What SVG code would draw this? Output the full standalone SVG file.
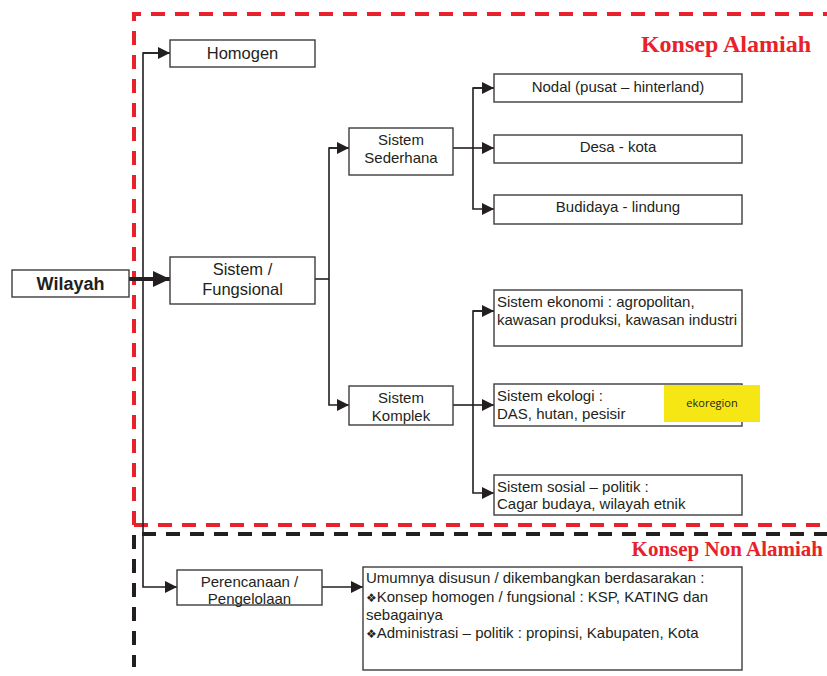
<svg xmlns="http://www.w3.org/2000/svg" width="827" height="676" viewBox="0 0 827 676">
<defs>
<marker id="arr" markerUnits="userSpaceOnUse" markerWidth="12" markerHeight="12" refX="12" refY="6" orient="auto"><path d="M0,0 L12,6 L0,12 z" fill="#231f20"/></marker>
<marker id="arrBig" markerUnits="userSpaceOnUse" markerWidth="17" markerHeight="16" refX="17" refY="8" orient="auto"><path d="M0,0 L17,8 L0,16 z" fill="#231f20"/></marker>
</defs>
<style>
.box{fill:#fff;stroke:#3c3c3c;stroke-width:1.4}
.t{font-family:"Liberation Sans",Arial,sans-serif;font-size:15px;fill:#231f20}
.c{text-anchor:middle}
.b{font-size:18px;font-weight:bold}
.m{font-size:16.5px}
.sym{font-family:"DejaVu Sans",sans-serif;font-size:12px}
.ln{fill:none;stroke:#231f20;stroke-width:1.6}
.red{fill:none;stroke:#e8212a;stroke-width:4;stroke-dasharray:14 10}
.blk{fill:none;stroke:#231f20;stroke-width:4;stroke-dasharray:14 10}
.title{font-family:"Liberation Serif","Times New Roman",serif;font-weight:bold;fill:#e8212a;text-anchor:end}
</style>
<rect width="827" height="676" fill="#fff"/>
<g id="frames">
<path class="red" d="M134,525 V14 H827"/>
<path class="red" d="M134,525 H827"/>
<path class="blk" d="M142,534 H827"/>
<path class="blk" d="M134,535 V667"/>
<text class="title" x="811" y="52" font-size="24">Konsep Alamiah</text>
<text class="title" x="823" y="556" font-size="21">Konsep Non Alamiah</text>
</g>
<g id="connectors">
<line x1="129" y1="279" x2="170" y2="279" stroke="#231f20" stroke-width="4" marker-end="url(#arrBig)"/>
<path class="ln" d="M170,53 H143 V587 H177" marker-end="url(#arr)"/>
<path class="ln" d="M143,53 H170" marker-end="url(#arr)"/>
<path class="ln" d="M322,587 H363" marker-end="url(#arr)"/>
<path class="ln" d="M315,279 H329"/>
<path class="ln" d="M349,148 H329 V405 H349" marker-end="url(#arr)"/>
<path class="ln" d="M329,148 H349" marker-end="url(#arr)"/>
<path class="ln" d="M453,148 H473"/>
<path class="ln" d="M494,88 H473 V209 H494" marker-end="url(#arr)"/>
<path class="ln" d="M473,88 H494" marker-end="url(#arr)"/>
<path class="ln" d="M473,148 H494" marker-end="url(#arr)"/>
<path class="ln" d="M453,405 H473"/>
<path class="ln" d="M494,311 H473 V493 H494" marker-end="url(#arr)"/>
<path class="ln" d="M473,311 H494" marker-end="url(#arr)"/>
<path class="ln" d="M473,405 H494" marker-end="url(#arr)"/>
</g>
<g id="wilayah">
<rect class="box" x="12" y="270" width="117" height="27"/>
<text class="t c b" x="70.5" y="290">Wilayah</text>
</g>
<g id="homogen">
<rect class="box" x="170" y="40" width="145" height="27"/>
<text class="t c m" x="242.5" y="59">Homogen</text>
</g>
<g id="fungsional">
<rect class="box" x="170" y="257" width="145" height="47"/>
<text class="t c m" x="242.5" y="275">Sistem /</text>
<text class="t c m" x="242.5" y="295">Fungsional</text>
</g>
<g id="sederhana">
<rect class="box" x="349" y="128" width="104" height="47"/>
<text class="t c" x="401" y="145">Sistem</text>
<text class="t c" x="401" y="163">Sederhana</text>
</g>
<g id="komplek">
<rect class="box" x="349" y="386" width="104" height="39"/>
<text class="t c" x="401" y="403">Sistem</text>
<text class="t c" x="401" y="421">Komplek</text>
</g>
<g id="nodal">
<rect class="box" x="494" y="74" width="248" height="28"/>
<text class="t c" x="618" y="92">Nodal (pusat – hinterland)</text>
</g>
<g id="desa">
<rect class="box" x="494" y="135" width="248" height="28"/>
<text class="t c" x="618" y="152">Desa - kota</text>
</g>
<g id="budidaya">
<rect class="box" x="494" y="195" width="248" height="29"/>
<text class="t c" x="618" y="212">Budidaya - lindung</text>
</g>
<g id="ekonomi">
<rect class="box" x="494" y="290" width="248" height="56"/>
<text class="t" x="497" y="307">Sistem ekonomi : agropolitan,</text>
<text class="t" x="497" y="325">kawasan produksi, kawasan industri</text>
</g>
<g id="ekologi">
<rect class="box" x="494" y="384" width="248" height="42"/>
<text class="t" x="497" y="401">Sistem ekologi :</text>
<text class="t" x="497" y="419">DAS, hutan, pesisir</text>
</g>
<g id="ekoregion">
<rect x="664" y="385" width="96" height="37" fill="#f5e614"/>
<text x="712" y="407" font-family="'Open Sans','Noto Sans',sans-serif" font-size="11" fill="#231f20" text-anchor="middle">ekoregion</text>
</g>
<g id="sosial">
<rect class="box" x="494" y="475" width="248" height="40"/>
<text class="t" x="497" y="492">Sistem sosial – politik :</text>
<text class="t" x="497" y="509">Cagar budaya, wilayah etnik</text>
</g>
<g id="perencanaan">
<rect class="box" x="177" y="570" width="145" height="35"/>
<text class="t c" x="249.5" y="587">Perencanaan /</text>
<text class="t c" x="249.5" y="604">Pengelolaan</text>
</g>
<g id="umumnya">
<rect class="box" x="363" y="567" width="379" height="103"/>
<text class="t" x="366" y="583">Umumnya disusun / dikembangkan berdasarakan :</text>
<text class="t" x="366" y="602"><tspan class="sym">❖</tspan>Konsep homogen / fungsional : KSP, KATING dan</text>
<text class="t" x="366" y="620">sebagainya</text>
<text class="t" x="366" y="638"><tspan class="sym">❖</tspan>Administrasi – politik : propinsi, Kabupaten, Kota</text>
</g>
</svg>
